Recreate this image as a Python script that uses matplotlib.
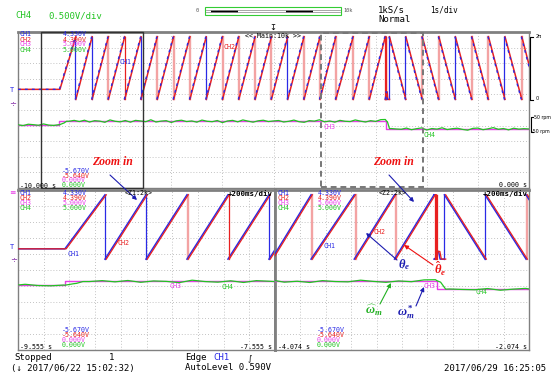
import numpy as np
import matplotlib.pyplot as plt
from matplotlib.patches import Rectangle

W, H = 556, 376

# ---------------- values ----------------
start_t = -9.19        # motor starts turning (s)
start_frac = 0.16      # rotor angle before start, fraction of 2*pi

# CH1 theta_e: times where the angle reaches 2*pi and drops to 0 (forward)
fwd_peaks = [-8.878, -8.559, -8.240, -7.921, -7.602, -7.283, -6.964, -6.645,
             -6.326, -6.007, -5.688, -5.369, -5.050, -4.731, -4.412, -4.100,
             -3.790, -3.450, -3.133, -2.822]
# chatter right at the speed reversal
rev_t = [-2.818, -2.818, -2.812, -2.812, -2.800, -2.786, -2.774]
rev_frac = [0.0, 1.0, 1.0, 0.0, 0.12, 0.12, 0.0]
# times where the angle reaches 0 and jumps to 2*pi (backward)
bwd_wraps = [-2.740, -2.420, -2.097, -1.774, -1.450, -1.127, -0.803, -0.480, -0.150]
end_frac = 0.52
est_lag = 0.010        # CH2 (estimated angle) trails CH1

# CH3 speed reference (rpm)
ref_t = [-10.0, -9.19, -2.80, 0.0]
ref_rpm = [0, 25, -25, -25]

# CH4 estimated speed (rpm), one sample every 0.1 s from -10 s to 0 s
est_rpm = [0, -5, 4, 1, -3, 6, -2, -4, 1,
           12, 24, 30,
           22, 31, 19, 28, 25, 17, 33, 24, 20, 29, 18, 30, 26, 21, 34, 19, 25, 28, 16, 27,
           31, 22, 26, 18, 32, 24, 21, 29, 15, 26, 30, 20, 33, 25, 18, 27, 31, 22, 26, 29,
           19, 24, 32, 21, 17, 28, 25, 34, 20, 26, 18, 30, 24, 22, 33, 25, 19, 28, 23, 35,
           30, -25, -28,
           -30, -22, -33, -26, -21, -35, -25, -29, -20, -32, -26, -23, -31, -36, -24, -22,
           -33, -27, -19, -30, -25, -34, -23, -29, -26, -28]
# extra CH4 points around the two steps
est_step_t = [-9.19, -9.12, -9.05, -2.81, -2.77, -2.73]
est_step_rpm = [0, 10, 24, 36, 20, -26]

main_win = (-10.0, 0.0)
zoom_wins = [(-9.555, -7.555), (-4.074, -2.074)]

# ---------------- screen mapping (divisions) ----------------
TH0, TH_SPAN = 5.68, 4.02      # theta = 0 and 2*pi span, in divisions
SP0, SP_K = 4.05, 0.0095       # 0 rpm level and div per rpm

C1, C2, C3, C4 = '#2a2ae6', '#e82020', '#e83ce8', '#22c422'
PALE = '#f3a3a3'
MONO = 'DejaVu Sans Mono'

plt.rcParams['mathtext.fontset'] = 'custom'
plt.rcParams['mathtext.it'] = 'Liberation Serif:italic:bold'
plt.rcParams['mathtext.rm'] = 'Liberation Serif:bold'

# build the angle polyline
t = [main_win[0], start_t]
f = [start_frac, start_frac]
for p in fwd_peaks:
    t += [p, p]
    f += [1.0, 0.0]
t += rev_t
f += rev_frac
for w in bwd_wraps:
    t += [w, w]
    f += [0.0, 1.0]
t.append(main_win[1])
f.append(end_frac)
t = np.array(t)
th_y = TH0 + np.array(f) * TH_SPAN

ramp_x, ramp_y, verts = [t[0]], [th_y[0]], []
for i in range(1, len(t)):
    if t[i] == t[i - 1]:
        verts.append((t[i], th_y[i - 1], th_y[i]))
        ramp_x.append(np.nan)
        ramp_y.append(np.nan)
    ramp_x.append(t[i])
    ramp_y.append(th_y[i])
ramp_x = np.array(ramp_x)

blue_wraps = [0, 1, 4, 8, 13, 22, 23, 26, 29]
red_wraps = [3, 19, 20, 21]

est_t = np.linspace(main_win[0], main_win[1], len(est_rpm))
sp_t = np.concatenate([est_t, est_step_t])
sp_v = np.concatenate([est_rpm, est_step_rpm])
order = np.argsort(sp_t)
sp_t, sp_v = sp_t[order], sp_v[order]


def draw_panel(ax, win, main=False):
    ax.set_xlim(*win)
    ax.set_ylim(0, 10)
    ax.set_xticks(np.linspace(win[0], win[1], 11))
    ax.set_yticks(np.arange(0, 11))
    ax.tick_params(length=0, labelbottom=False, labelleft=False)
    ax.grid(True, color='#b0b0b0', lw=0.6, linestyle=(0, (1, 2.5)))
    for s in ax.spines.values():
        s.set_color('#808080')
        s.set_linewidth(1.0)
    ax.spines['top'].set_linewidth(2.0)
    # speed traces
    ax.step(ref_t, SP0 + np.array(ref_rpm) * SP_K, where='post', color=C3, lw=1.0, zorder=3)
    ax.plot(sp_t, SP0 + sp_v * SP_K, color=C4, lw=0.9, zorder=4)
    # angle traces
    for k, (tv, y0, y1) in enumerate(verts):
        if k in blue_wraps:
            ax.plot([tv, tv], [y0, y1], color=C1, lw=0.9, zorder=5)
        elif k in red_wraps:
            ax.plot([tv + est_lag] * 2, [y0, y1], color=C2, lw=0.9, zorder=6)
        else:
            ax.plot([tv + est_lag] * 2, [y0, y1], color=PALE, lw=1.7, zorder=2)
    if main:
        # at 1 s/div CH1 only shows through CH2 in short dashes
        ax.plot(ramp_x + est_lag, ramp_y, color=C2, lw=1.1, zorder=5)
        ax.plot(ramp_x, ramp_y, color=C1, lw=1.0, ls=(0, (2, 3)), zorder=6)
    else:
        ax.plot(ramp_x, ramp_y, color=C1, lw=1.1, zorder=5)
        ax.plot(ramp_x + est_lag, ramp_y, color=C2, lw=0.9, zorder=6)


fig = plt.figure(figsize=(W / 100, H / 100), dpi=100)


def box(x0, y0, x1, y1):
    return [x0 / W, 1 - y1 / H, (x1 - x0) / W, (y1 - y0) / H]


ax_top = fig.add_axes(box(18, 32, 529, 188))
ax_bl = fig.add_axes(box(18, 190, 275, 350))
ax_br = fig.add_axes(box(275, 190, 529, 350))
draw_panel(ax_top, main_win, main=True)
draw_panel(ax_bl, zoom_wins[0])
draw_panel(ax_br, zoom_wins[1])
ax_bl.spines['right'].set_linewidth(2.0)
ax_br.spines['left'].set_linewidth(2.0)

# zoom windows on the main trace
z0 = zoom_wins[0]
ax_top.add_patch(Rectangle((z0[0], 0), z0[1] - z0[0], 10, fill=False,
                           edgecolor='#333333', lw=1.0, zorder=7, clip_on=False))
z1 = zoom_wins[1]
ax_top.add_patch(Rectangle((z1[0], 0.05), z1[1] - z1[0], 9.9, fill=False,
                           edgecolor='#777777', lw=1.4, ls=(0, (3, 2)), zorder=7))

# ---------------- overlay for text in screen pixels ----------------
ov = fig.add_axes([0, 0, 1, 1])
ov.set_xlim(0, W)
ov.set_ylim(H, 0)
ov.axis('off')


def lab(x, y, s, color='black', size=4.8, ha='left', **kw):
    ov.text(x, y, s, color=color, fontsize=size, ha=ha, va='center', family=MONO, **kw)


def arrow(x0, y0, x1, y1, color):
    ov.annotate('', xy=(x1, y1), xytext=(x0, y0),
                arrowprops=dict(arrowstyle='-|>', color=color, lw=0.8, mutation_scale=6,
                                shrinkA=0, shrinkB=0))


# header
lab(15, 16, 'CH4', C4, 6.5)
lab(48, 16, '0.500V/div', C4, 6.5)
lab(378, 10, '1kS/s', 'black', 6.5)
lab(430, 10, '1s/div', 'black', 5.5)
lab(378, 19, 'Normal', 'black', 6.5)
ov.add_patch(Rectangle((205, 7), 136, 8, facecolor='white', edgecolor='#33cc33', lw=0.8))
ov.plot([206, 340], [10, 10], color='#999999', lw=0.6)
ov.plot([206, 340], [12, 12], color='#999999', lw=0.6)
for zw in zoom_wins:
    xa = 205 + (zw[0] - main_win[0]) / (main_win[1] - main_win[0]) * 136
    xb = 205 + (zw[1] - main_win[0]) / (main_win[1] - main_win[0]) * 136
    ov.add_patch(Rectangle((xa, 9.5), xb - xa, 3, facecolor='black', lw=0))
lab(196, 11, '0', '#555555', 3.8)
lab(343, 11, '10k', '#555555', 3.8)
ov.text(273, 27, '\u21a7', fontsize=6, ha='center', va='center', family='DejaVu Sans')

chs = ['CH1', 'CH2', 'CH3', 'CH4']
cols = [C1, C2, C3, C4]
top_vals = ['4.330V', '4.390V', '5.000V', '5.000V']
bot_vals = ['-5.670V', '-5.640V', '0.000V', '0.000V']

# main panel labels
for k in range(4):
    lab(20, 34.5 + 5 * k, chs[k], cols[k])
    lab(63, 34.5 + 5 * k, top_vals[k], cols[k])
    lab(62, 171 + 4.6 * k, bot_vals[k], cols[k])
lab(245, 36, '<< Main:10k >>')
lab(223, 47, 'CH2', C2)
lab(120, 62, 'CH1', C1)
lab(323, 127, 'CH3', C3)
lab(424, 135, 'CH4', C4)
lab(20, 186, '-10.000 s')
lab(527, 185, '0.000 s', ha='right')
ov.text(12, 90, 'T', color=C1, fontsize=5, ha='center', va='center', family=MONO)
ov.text(13, 104, '\u00f7', color='#8833aa', fontsize=6, ha='center', va='center')
# right side scale marks
ov.plot([533, 530, 530, 533], [36.5, 36.5, 99.5, 99.5], color='black', lw=0.8)
ov.plot([533, 530.5, 530.5, 533], [117, 117, 132, 132], color='black', lw=0.8)
ov.text(536, 37, '2\u03c0', fontsize=3.6, va='center', family='DejaVu Sans')
ov.text(536, 99, '0', fontsize=3.6, va='center', family='DejaVu Sans')
ov.text(534, 117, '50 rpm', fontsize=3.4, va='center', family='DejaVu Sans')
ov.text(531, 132, '-50 rpm', fontsize=3.4, va='center', family='DejaVu Sans')

zoom_kw = dict(color='#ee1111', fontsize=8.5, family='Liberation Serif',
               style='italic', weight='bold', va='center')
ov.text(92, 162, 'Zoom in', **zoom_kw)
ov.text(373, 162, 'Zoom in', **zoom_kw)
arrow(110, 175, 137, 200, '#1c1cb0')
arrow(389, 175, 414, 202, '#1c1cb0')

# zoom panel labels
for x0, vx, tag, tagx in [(20, 63, '<Z1:2k>', 125), (277, 318, '<Z2:2k>', 379)]:
    for k in range(4):
        lab(x0, 193 + 5 * k, chs[k], cols[k])
        lab(vx, 193 + 5 * k, top_vals[k], cols[k])
        lab(vx - 1, 330 + 5 * k, bot_vals[k], cols[k])
    lab(tagx, 193, tag)
lab(228, 194, '+200ms/div', size=5.3, weight='bold')
lab(483, 194, '+200ms/div', size=5.3, weight='bold')
ov.text(12, 192, '\u2261', color=C3, fontsize=5.5, ha='center', va='center')
ov.text(12, 247, 'T', color=C1, fontsize=5, ha='center', va='center', family=MONO)
ov.text(14, 260, '\u00f7', color='#8833aa', fontsize=6, ha='center', va='center')
lab(68, 254, 'CH1', C1)
lab(118, 243, 'CH2', C2)
lab(170, 286, 'CH3', C3)
lab(222, 287, 'CH4', C4)
lab(323, 246, 'CH1', C1)
lab(373, 232, 'CH2', C2)
lab(424, 286, 'CH3', C3)
lab(476, 292, 'CH4', C4)
lab(20, 347, '-9.555 s')
lab(272, 347, '-7.555 s', ha='right')
lab(278, 347, '-4.074 s')
lab(527, 347, '-2.074 s', ha='right')

# signal names
ov.text(398, 265, r'$\theta_e$', color='#1c1cb0', fontsize=9, va='center')
ov.text(434, 269, r'$\hat{\theta}_e$', color='#ee1111', fontsize=9, va='center')
ov.text(365, 310, r'$\widehat{\omega}_m$', color='#22b022', fontsize=9, va='center')
ov.text(397, 312, r'$\omega^*_m$', color='#1c1cb0', fontsize=9, va='center')
arrow(397, 260, 366, 233, '#1c1cb0')
arrow(433, 265, 404, 245, '#ee1111')
arrow(380, 304, 391, 283, '#22b022')
arrow(416, 306, 424, 287, '#1c1cb0')

# status line
lab(14, 358, 'Stopped', size=6.5)
lab(109, 358, '1', size=6.5)
lab(185, 358, 'Edge', size=6.5)
lab(213, 358, 'CH1', C1, 6.5)
ov.text(250, 358, '\u222b', fontsize=6, ha='center', va='center', family='DejaVu Sans')
lab(11, 368, '(\u2193 2017/06/22 15:02:32)', size=6.5)
lab(185, 368, 'AutoLevel 0.590V', size=6.5)
lab(444, 368, '2017/06/29 16:25:05', size=6.5)

fig.savefig('out.png', dpi=100)
